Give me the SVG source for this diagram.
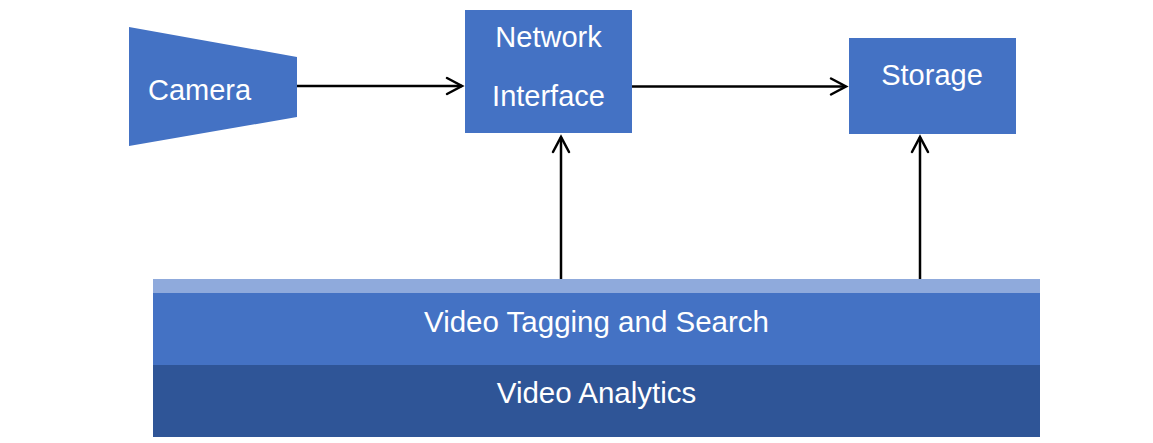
<svg xmlns="http://www.w3.org/2000/svg" width="1153" height="443" viewBox="0 0 1153 443">
<defs>
<style>
.node{fill:#4472C4;}
.lbl{font-family:"Liberation Sans",Arial,sans-serif;font-size:29px;fill:#FFFFFF;}
.big{font-size:29.5px;}
.c{text-anchor:middle;}
.edge{stroke:#000000;stroke-width:2.5;fill:none;}
.head{stroke:#000000;stroke-width:2.5;fill:none;stroke-linecap:round;stroke-linejoin:miter;}
</style>
</defs>
<rect width="1153" height="443" fill="#FFFFFF"/>
<g id="camera">
<polygon class="node" points="129,27 297,57 297,117 129,146"/>
<text class="lbl" x="148" y="100">Camera</text>
</g>
<g id="network-interface">
<rect class="node" x="465" y="10" width="167" height="123"/>
<text class="lbl c" x="548.5" y="47">Network</text>
<text class="lbl c" x="548.5" y="106">Interface</text>
</g>
<g id="storage">
<rect class="node" x="849" y="38" width="167" height="96"/>
<text class="lbl c" x="932" y="85">Storage</text>
</g>
<g id="video-tagging-and-search">
<rect x="153" y="279" width="887" height="14" fill="#8FAADC"/>
<rect class="node" x="153" y="293" width="887" height="72"/>
<text class="lbl big c" x="596.5" y="332">Video Tagging and Search</text>
</g>
<g id="video-analytics">
<rect x="153" y="365" width="887" height="72" fill="#2F5597"/>
<text class="lbl big c" x="596.5" y="403">Video Analytics</text>
</g>
<g id="connectors">
<line class="edge" x1="297" y1="86" x2="462" y2="86"/>
<polyline class="head" points="447,78 462,86 447,94"/>
<line class="edge" x1="632" y1="86.5" x2="846" y2="86.5"/>
<polyline class="head" points="831,78.5 846,86.5 831,94.5"/>
<line class="edge" x1="561" y1="279" x2="561" y2="137"/>
<polyline class="head" points="553,152 561,137 569,152"/>
<line class="edge" x1="920" y1="279" x2="920" y2="137"/>
<polyline class="head" points="912,152 920,137 928,152"/>
</g>
</svg>
